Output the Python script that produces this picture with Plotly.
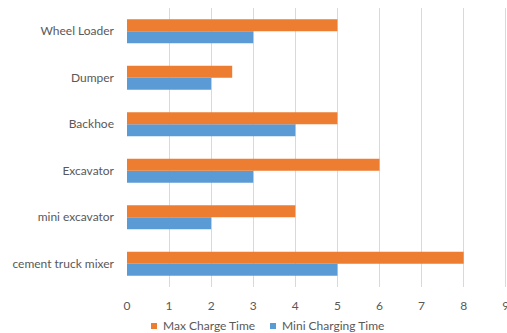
import plotly.graph_objects as go

categories = ["cement truck mixer", "mini excavator", "Excavator", "Backhoe", "Dumper", "Wheel Loader"]
max_charge = [8, 4, 6, 5, 2.5, 5]
mini_charge = [5, 2, 3, 4, 2, 3]
x_ticks = list(range(0, 10))
series_names = ["Max Charge Time", "Mini Charging Time"]
series_colors = ["#ED7D31", "#5B9BD5"]

font_family = "Lato, 'Open Sans', sans-serif"
text_color = "#595959"

fig = go.Figure()
fig.add_trace(go.Bar(
    y=categories, x=mini_charge, orientation="h", name=series_names[1],
    marker=dict(color=series_colors[1], line=dict(width=0)),
))
fig.add_trace(go.Bar(
    y=categories, x=max_charge, orientation="h", name=series_names[0],
    marker=dict(color=series_colors[0], line=dict(width=0)),
))

W, H = 507, 333
ml, mr, mt, mb = 127, 0, 8, 46
plot_h = H - mt - mb

def paper_y(px):
    return (H - mb - px) / plot_h

def paper_x(px):
    return (px - ml) / (W - ml - mr)

# Legend drawn as small colour squares with labels below the plot
legend_items = [(151, 161), (270, 280)]
shapes, annotations = [], []
for (sq_x, txt_x), name, color in zip(legend_items, series_names, series_colors):
    shapes.append(dict(type="rect", xref="paper", yref="paper",
                       x0=paper_x(sq_x), x1=paper_x(sq_x + 6),
                       y0=paper_y(329), y1=paper_y(323),
                       fillcolor=color, line=dict(width=0)))
    annotations.append(dict(text=name, xref="paper", yref="paper",
                            x=paper_x(txt_x), y=paper_y(326),
                            xanchor="left", yanchor="middle", showarrow=False,
                            font=dict(size=12, color=text_color)))

fig.update_layout(
    width=W, height=H,
    margin=dict(l=ml, r=mr, t=mt, b=mb),
    barmode="group", bargap=0.48, bargroupgap=0,
    plot_bgcolor="white", paper_bgcolor="white",
    font=dict(family=font_family, size=12, color=text_color),
    showlegend=False,
    shapes=shapes, annotations=annotations,
    xaxis=dict(range=[0, 9.03], tickvals=x_ticks, showgrid=True, gridcolor="#D9D9D9",
               gridwidth=1, zeroline=False, showline=False, ticks="",
               ticklabelstandoff=10, ticklabeloverflow="allow", automargin=False),
    yaxis=dict(categoryorder="array", categoryarray=categories, showgrid=False,
               zeroline=False, showline=False, ticks="", ticklabelstandoff=12,
               automargin=False),
)

fig.write_html("out.html")
